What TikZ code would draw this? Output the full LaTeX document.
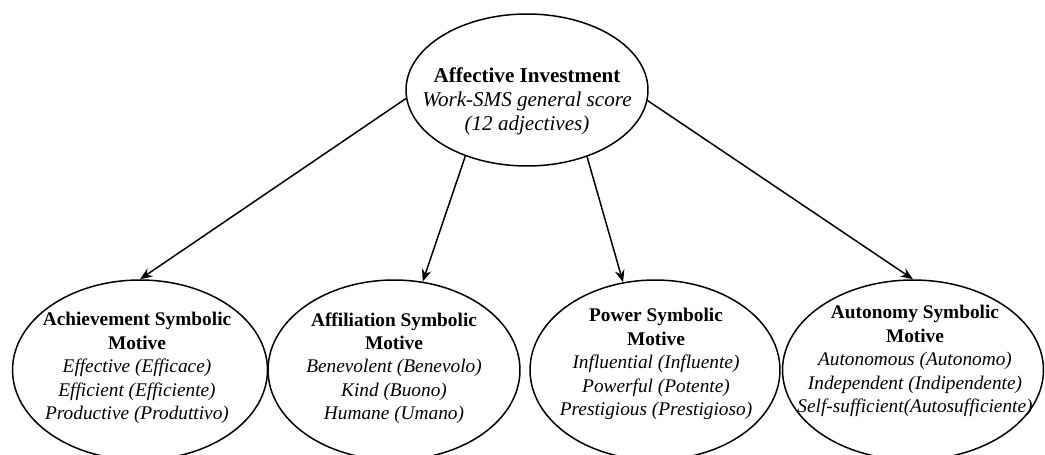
\documentclass[tikz,border=0pt]{standalone}
\usepackage{fontspec}
\setmainfont{Liberation Serif}
\usetikzlibrary{shapes.geometric, arrows.meta, positioning, calc}

\begin{document}
\begin{tikzpicture}[x=0.02cm, y=-0.02cm,
  oval/.style={draw, line width=0.85pt, ellipse, inner sep=0pt},
  score/.style={align=center, font=\fontsize{12}{13.6}\selectfont},
  motive/.style={align=center, font=\fontsize{11}{13.3}\selectfont},
  link/.style={line width=0.85pt, -{Stealth[length=7pt,width=5.5pt]}}]
  \useasboundingbox (0,0) rectangle (1045,455);

  % General score on top
  \node[oval, minimum width=4.84cm, minimum height=3.04cm] (invest) at (527,90) {};
  \node[score] (investtxt) at (527,101)
    {\textbf{Affective Investment}\\ \textit{Work-SMS general score}\\ \textit{(12 adjectives)}};

  % The four symbolic motives
  \node[oval, minimum width=5.1cm, minimum height=3.6cm] (ach) at (140,370) {};
  \node[oval, minimum width=5.04cm, minimum height=3.6cm] (aff) at (394,370) {};
  \node[oval, minimum width=5.0cm, minimum height=3.6cm] (pow) at (655,370) {};
  \node[oval, minimum width=5.22cm, minimum height=3.6cm] (aut) at (913,370) {};

  \node[motive] (achtxt) at (137,368)
    {\textbf{Achievement Symbolic}\\ \textbf{Motive}\\ \textit{Effective (Efficace)}\\
     \textit{Efficient (Efficiente)}\\ \textit{Productive (Produttivo)}};
  \node[motive] (afftxt) at (394,368)
    {\textbf{Affiliation Symbolic}\\ \textbf{Motive}\\ \textit{Benevolent (Benevolo)}\\
     \textit{Kind (Buono)}\\ \textit{Humane (Umano)}};
  \node[motive] (powtxt) at (656,364)
    {\textbf{Power Symbolic}\\ \textbf{Motive}\\ \textit{Influential (Influente)}\\
     \textit{Powerful (Potente)}\\ \textit{Prestigious (Prestigioso)}};
  \node[motive] (auttxt) at (915,361)
    {\textbf{Autonomy Symbolic}\\ \textbf{Motive}\\ \textit{Autonomous (Autonomo)}\\
     \textit{Independent (Indipendente)}\\ \textit{Self-sufficient(Autosufficiente)}};

  % Arrows
  \draw[link] (invest.184.8) -- (ach.90);
  \draw[link] (invest.227.6) -- (aff.72);
  \draw[link] (invest.312.3) -- (pow.110.8);
  \draw[link] (invest.355.3) -- (aut.90);
\end{tikzpicture}
\end{document}
